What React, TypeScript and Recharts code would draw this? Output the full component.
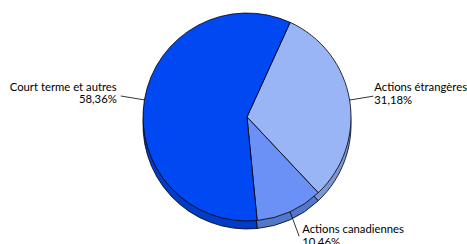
import React from 'react';
import { PieChart, Pie, Cell } from 'recharts';

const categories = ['Actions étrangères', 'Actions canadiennes', 'Court terme et autres'];
const shares = [31.18, 10.46, 58.36];
const topColors = ['#9ab5f6', '#6b91f6', '#0048f2'];
const sideColors = ['#7d97d3', '#5377cb', '#003cc6'];

const data = categories.map((name, i) => ({ name, value: shares[i] }));

const RADIAN = Math.PI / 180;
const CX = 247;
const CY = 117;
const R = 104;
const DEPTH = 8;
const START = 65.5;

const fmt = (v: number) => v.toFixed(2).replace('.', ',') + '%';

const renderLabel = (props: any) => {
  const { cx, cy, midAngle, outerRadius, name, value } = props;
  const cos = Math.cos(-midAngle * RADIAN);
  const sin = Math.sin(-midAngle * RADIAN);
  const bottom = Math.abs(cos) < 0.6 && sin > 0;
  const len = bottom ? 27 : 24;
  const sx = cx + outerRadius * cos;
  const sy = cy + outerRadius * sin;
  const ex = cx + (outerRadius + len) * cos - (bottom ? 2 : 0);
  const ey = cy + (outerRadius + len) * sin;
  const left = ex < cx - 20;
  const anchor = left ? 'end' : 'start';
  const tx = left ? ex - 4 : ex + (bottom ? 3 : 1);
  const y1 = bottom ? ey - 3 : ey - 5;
  return (
    <g>
      <path d={`M${sx},${sy}L${ex},${ey}`} stroke="#000" strokeWidth={0.8} fill="none" />
      <text x={tx} y={y1} textAnchor={anchor} fontSize={11.3} fill="#000" fontFamily="Lato, 'Open Sans', sans-serif">
        {name}
      </text>
      <text x={tx} y={y1 + 12.5} textAnchor={anchor} fontSize={11.3} fill="#000" fontFamily="Lato, 'Open Sans', sans-serif">
        {fmt(value)}
      </text>
    </g>
  );
};

export default function App() {
  return (
    <div style={{ width: 467, height: 244, background: '#fff' }}>
      <style>{`body{margin:0}`}</style>
      <PieChart width={467} height={244} margin={{ top: 0, right: 0, bottom: 0, left: 0 }}>
        <Pie
          data={data}
          dataKey="value"
          cx={CX}
          cy={CY + DEPTH}
          outerRadius={R}
          startAngle={START}
          endAngle={START - 360}
          stroke="#000"
          strokeWidth={0.8}
          isAnimationActive={false}
          label={false}
          labelLine={false}
        >
          {data.map((d, i) => (
            <Cell key={`side-${i}`} fill={sideColors[i]} />
          ))}
        </Pie>
        <Pie
          data={data}
          dataKey="value"
          cx={CX}
          cy={CY}
          outerRadius={R}
          startAngle={START}
          endAngle={START - 360}
          stroke="#000"
          strokeWidth={0.8}
          isAnimationActive={false}
          label={renderLabel}
          labelLine={false}
        >
          {data.map((d, i) => (
            <Cell key={`top-${i}`} fill={topColors[i]} />
          ))}
        </Pie>
      </PieChart>
    </div>
  );
}
